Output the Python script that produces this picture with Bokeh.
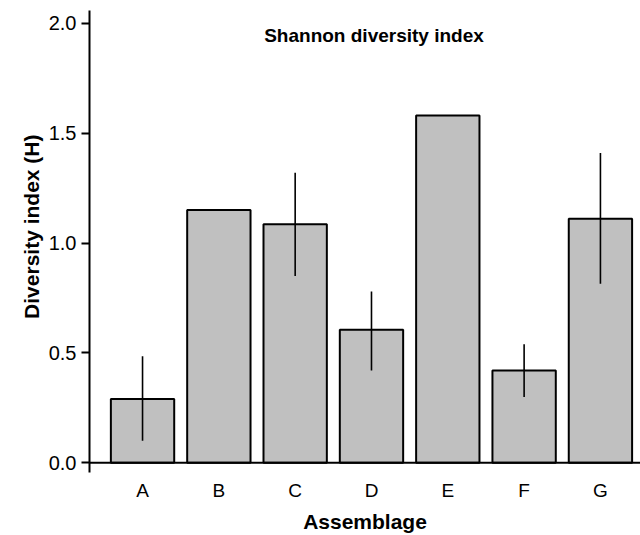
from bokeh.plotting import figure
from bokeh.models import ColumnDataSource, Span, Label, FixedTicker, Range1d, Title
from bokeh.embed import file_html
from bokeh.resources import INLINE

categories = ["A", "B", "C", "D", "E", "F", "G"]
values = [0.29, 1.15, 1.085, 0.605, 1.58, 0.42, 1.11]
err_low = [0.10, None, 0.85, 0.42, None, 0.30, 0.815]
err_high = [0.485, None, 1.32, 0.78, None, 0.54, 1.41]
y_ticks = [0.0, 0.5, 1.0, 1.5, 2.0]

xs = list(range(len(categories)))
FONT = "Liberation Sans"

p = figure(width=640, height=535, output_backend="svg", toolbar_location=None,
           x_range=Range1d(-0.695, 6.525), y_range=Range1d(-0.044, 2.058),
           min_border_left=89, min_border_right=0, min_border_top=10, min_border_bottom=62)
p.outline_line_color = None
p.grid.visible = False
p.background_fill_color = "white"

src = ColumnDataSource(dict(x=xs, top=values))
p.vbar(x="x", top="top", bottom=0, width=0.83, source=src,
       fill_color="#c0c0c0", line_color="black", line_width=2)

ex = [x for x, l in zip(xs, err_low) if l is not None]
el = [l for l in err_low if l is not None]
eh = [h for h in err_high if h is not None]
p.segment(x0=ex, y0=el, x1=ex, y1=eh, line_color="black", line_width=1.6)

p.add_layout(Span(location=0, dimension="width", line_color="black", line_width=2))

# y axis
ya = p.yaxis[0]
ya.ticker = FixedTicker(ticks=y_ticks)
ya.major_label_overrides = {t: f"{t:.1f}" for t in y_ticks}
ya.minor_tick_line_color = None
ya.major_tick_in = 0
ya.major_tick_out = 8
ya.major_tick_line_width = 2
ya.axis_line_width = 2
ya.major_label_text_font = FONT
ya.major_label_text_font_size = "20px"
ya.major_label_text_color = "black"
ya.major_label_standoff = 5

# y axis title as a left-side title, shifted toward the top as in the reference
p.add_layout(Title(text="Diversity index (H)", align="right", offset=124,
                   standoff=5, text_font=FONT, text_font_style="bold",
                   text_font_size="21px", text_color="black"), "left")

# x axis
xa = p.xaxis[0]
xa.ticker = FixedTicker(ticks=xs)
xa.major_label_overrides = {i: c for i, c in enumerate(categories)}
xa.axis_line_color = None
xa.major_tick_line_color = None
xa.major_tick_out = 0
xa.major_tick_in = 0
xa.minor_tick_line_color = None
xa.major_label_text_font = FONT
xa.major_label_text_font_size = "19px"
xa.major_label_text_color = "black"
xa.major_label_standoff = 7
xa.axis_label = "Assemblage"
xa.axis_label_text_font = FONT
xa.axis_label_text_font_style = "bold"
xa.axis_label_text_font_size = "21px"
xa.axis_label_text_color = "black"
xa.axis_label_standoff = 6

p.add_layout(Label(x=284.5, y=437, x_units="screen", y_units="screen",
                   text="Shannon diversity index", text_align="center",
                   text_baseline="middle", text_font=FONT, text_font_style="bold",
                   text_font_size="19px", text_color="black"))

open("out.html", "w").write(file_html(p, INLINE))
